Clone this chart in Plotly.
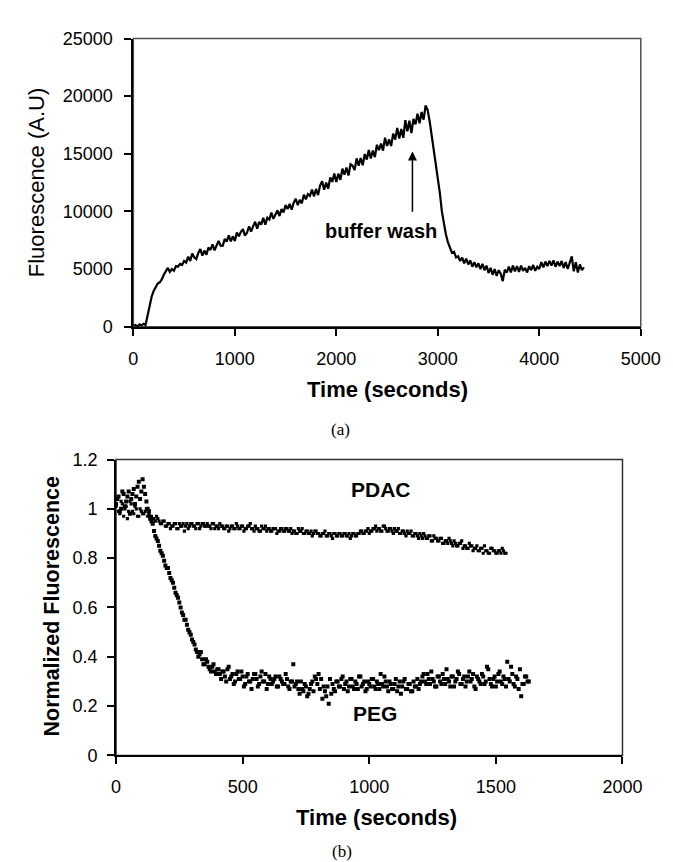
import plotly.graph_objects as go

# ---------------- Data ----------------
# (a) Fluorescence (A.U), sampled every 20 s starting at t = 0 s
t0_a, dt_a = 0, 20
fluor_a = [
    80, 150, 0, 200, 100, 250, 150, 900, 1900, 2600,
    3100, 3500, 3750, 3850, 4100, 4500, 4800, 5100, 4750, 5000,
    4850, 5250, 5200, 5450, 5350, 5700, 5550, 6070, 5705, 6340,
    6025, 5860, 6395, 6730, 6165, 6600, 6235, 6870, 6655, 7140,
    6625, 7060, 7445, 7030, 7015, 7600, 7385, 7920, 7405, 7840,
    7425, 8160, 7845, 8230, 8465, 7900, 8150, 8700, 8250, 8700,
    9100, 8500, 9100, 8850, 9450, 8850, 9450, 9300, 9900, 9350,
    9750, 10100, 9600, 10200, 9900, 10550, 10200, 10650, 10150, 10750,
    11100, 10550, 11000, 10700, 11450, 11050, 11500, 11350, 11900, 11300,
    11950, 11420, 12240, 12610, 11880, 12500, 11970, 12940, 12560, 13280,
    12550, 13270, 12740, 13710, 13180, 13800, 13120, 14090, 13960, 13580,
    14600, 13970, 14640, 14010, 14980, 14500, 15330, 14600, 15280, 14710,
    15780, 15310, 15890, 15270, 16390, 15670, 16250, 15670, 16750, 16230,
    17250, 16330, 17160, 16390, 17910, 16940, 17870, 16790, 18020, 17550,
    18480, 17650, 18630, 17960, 19190, 18800, 17800, 16600, 15400, 14200,
    13000, 11600, 10000, 8900, 8000, 7300, 6900, 6400, 6500, 6000,
    6100, 5700, 6000, 5500, 5900, 5400, 5750, 5200, 5600, 5150,
    5500, 5000, 5450, 4900, 5300, 4650, 5100, 4500, 5000, 4400,
    4900, 4600, 3950, 4950, 4700, 5200, 4700, 5300, 4800, 5250,
    4750, 5300, 4850, 5100, 4700, 5250, 4900, 5350, 4850, 5200,
    5000, 5600, 5150, 5650, 5250, 5700, 5300, 5750, 5200, 5650,
    5250, 5700, 5100, 5600, 5000, 5550, 6100, 4800, 5600, 4700,
    5400, 4900, 5150]

# (b) Normalized fluorescence, two interleaved sample sets (every 10 s, offset 5 s)
t0_b, t0_b_off, dt_b = 0, 5, 10
peg = [1.02, 1.05, 1.00, 1.06, 1.03, 1.07, 1.04, 1.08, 1.05, 1.11, 1.07, 1.09, 1.03, 0.99,
       0.95, 0.91, 0.88, 0.85, 0.82, 0.79, 0.76, 0.74, 0.71, 0.68, 0.65, 0.62, 0.58, 0.55,
       0.53, 0.50, 0.47, 0.45, 0.42, 0.41, 0.39, 0.37, 0.38, 0.35, 0.36, 0.34, 0.35, 0.33,
       0.34, 0.32, 0.35, 0.31, 0.33, 0.30, 0.34, 0.31, 0.32, 0.29, 0.33, 0.30, 0.31, 0.33,
       0.28, 0.32, 0.30, 0.33, 0.29, 0.31, 0.30, 0.32, 0.28, 0.31, 0.29, 0.33, 0.28, 0.30,
       0.37, 0.29, 0.27, 0.30, 0.26, 0.28, 0.25, 0.29, 0.26, 0.31, 0.33, 0.31, 0.28, 0.24,
       0.21, 0.25, 0.27, 0.30, 0.28, 0.31, 0.27, 0.30, 0.28, 0.31, 0.27, 0.29, 0.32, 0.28,
       0.30, 0.27, 0.29, 0.31, 0.28, 0.30, 0.27, 0.29, 0.32, 0.28, 0.30, 0.27, 0.29, 0.26,
       0.30, 0.28, 0.31, 0.27, 0.29, 0.26, 0.28, 0.31, 0.29, 0.32, 0.30, 0.33, 0.29, 0.31,
       0.28, 0.32, 0.30, 0.33, 0.29, 0.31, 0.28, 0.32, 0.30, 0.34, 0.29, 0.31, 0.28, 0.32,
       0.30, 0.33, 0.27, 0.31, 0.29, 0.32, 0.30, 0.35, 0.29, 0.31, 0.28, 0.33, 0.30, 0.32,
       0.28, 0.31, 0.36, 0.29, 0.32, 0.27, 0.24, 0.29, 0.32, 0.30]
peg_off = [1.04, 0.99, 1.07, 1.01, 1.05, 0.98, 1.06, 1.02, 1.09, 1.04, 1.12, 1.06, 1.00,
           0.96, 0.94, 0.89, 0.87, 0.83, 0.81, 0.77, 0.76, 0.72, 0.70, 0.66, 0.64, 0.60,
           0.57, 0.55, 0.51, 0.49, 0.46, 0.43, 0.40, 0.42, 0.37, 0.39,
           0.36, 0.34, 0.37, 0.33, 0.35, 0.31, 0.34, 0.30, 0.36, 0.32, 0.29, 0.33, 0.31, 0.34,
           0.28, 0.32, 0.30, 0.27, 0.33, 0.31, 0.29, 0.34, 0.30, 0.27, 0.32, 0.29, 0.31, 0.28,
           0.32, 0.30, 0.29, 0.31, 0.27, 0.30,
           0.28, 0.30, 0.25, 0.27, 0.29, 0.24, 0.27, 0.30, 0.32, 0.29, 0.27, 0.23, 0.26, 0.28,
           0.31, 0.29, 0.26, 0.30, 0.28, 0.32,
           0.29, 0.26, 0.31, 0.28, 0.30, 0.27, 0.32, 0.29, 0.26, 0.30, 0.28, 0.31, 0.27, 0.29,
           0.33, 0.28, 0.30, 0.26, 0.29, 0.27, 0.31, 0.28, 0.25, 0.30, 0.27, 0.29, 0.26, 0.30,
           0.28, 0.27,
           0.30, 0.33, 0.29, 0.31, 0.34, 0.30, 0.28, 0.32, 0.29, 0.31, 0.35, 0.30, 0.32, 0.28,
           0.31, 0.33, 0.29, 0.32, 0.30, 0.34, 0.31, 0.28, 0.32, 0.30, 0.33, 0.29, 0.36, 0.31,
           0.28, 0.32, 0.30, 0.34, 0.29, 0.31, 0.38, 0.30, 0.33, 0.28, 0.31, 0.35, 0.29, 0.32,
           0.30]
pdac = [1.01, 0.99, 1.03, 0.97, 1.01, 0.99, 1.02, 0.98, 1.00, 0.97, 0.99, 0.98, 1.00, 0.98,
        0.97, 0.96, 0.97, 0.95, 0.94, 0.95, 0.93, 0.94, 0.93, 0.94, 0.92, 0.94, 0.93, 0.91,
        0.94, 0.93, 0.94, 0.93, 0.94, 0.92, 0.94, 0.93, 0.94, 0.93, 0.94, 0.92, 0.93, 0.94,
        0.93, 0.92, 0.93, 0.92, 0.93, 0.92, 0.93, 0.92, 0.93, 0.92, 0.93, 0.94, 0.92, 0.93,
        0.92, 0.91, 0.92, 0.93, 0.92, 0.91, 0.92, 0.92, 0.91, 0.92, 0.91, 0.92, 0.91, 0.92,
        0.91, 0.90, 0.92, 0.91, 0.90, 0.91, 0.90, 0.91, 0.90, 0.91, 0.90, 0.89, 0.90, 0.89,
        0.90, 0.89, 0.90, 0.89, 0.90, 0.89, 0.90, 0.89, 0.90, 0.89, 0.90, 0.89, 0.90, 0.91,
        0.90, 0.91, 0.90, 0.91, 0.92, 0.91, 0.92, 0.91, 0.93, 0.91, 0.92, 0.91, 0.92, 0.91,
        0.90, 0.91, 0.90, 0.91, 0.90, 0.89, 0.90, 0.89, 0.90, 0.88, 0.89, 0.88, 0.89, 0.87,
        0.88, 0.87, 0.88, 0.86, 0.87, 0.86, 0.87, 0.85, 0.86, 0.85, 0.86, 0.84, 0.85, 0.84,
        0.85, 0.83, 0.84, 0.83, 0.84, 0.82, 0.83, 0.82, 0.84, 0.83, 0.82, 0.83, 0.82, 0.83,
        0.82]
pdac_off = [1.04, 0.98, 1.02, 1.00, 0.96, 1.03, 0.99, 1.01, 0.97, 1.00, 0.98, 0.99, 0.97,
            0.97, 0.96, 0.95, 0.96, 0.94, 0.95, 0.93, 0.94, 0.92, 0.93, 0.94, 0.92, 0.93,
            0.94, 0.93, 0.92, 0.94, 0.93, 0.92, 0.94, 0.93, 0.94, 0.93,
            0.93, 0.92, 0.94, 0.93, 0.92, 0.93, 0.92, 0.93, 0.91, 0.93, 0.92, 0.94, 0.92, 0.93,
            0.91, 0.92, 0.93, 0.92, 0.91, 0.92, 0.91, 0.93, 0.92, 0.91, 0.92, 0.91, 0.92, 0.90,
            0.91, 0.92, 0.91, 0.92, 0.91, 0.90,
            0.91, 0.90, 0.91, 0.92, 0.90, 0.91, 0.90, 0.89, 0.91, 0.90, 0.89, 0.90, 0.91, 0.89,
            0.90, 0.88, 0.90, 0.89, 0.90, 0.89,
            0.90, 0.89, 0.88, 0.90, 0.89, 0.90, 0.91, 0.90, 0.91, 0.92, 0.91, 0.92, 0.93, 0.92,
            0.91, 0.93, 0.92, 0.91, 0.92, 0.90, 0.91, 0.92, 0.90, 0.91, 0.89, 0.90, 0.91, 0.89,
            0.90, 0.88,
            0.89, 0.90, 0.88, 0.89, 0.87, 0.89, 0.88, 0.87, 0.88, 0.86, 0.87, 0.88, 0.86, 0.87,
            0.85, 0.86, 0.87, 0.85, 0.84, 0.86, 0.85, 0.84, 0.85, 0.83, 0.84, 0.85, 0.83, 0.82,
            0.84, 0.83, 0.82, 0.83, 0.84, 0.82]

x_ticks_a = [0, 1000, 2000, 3000, 4000, 5000]
y_ticks_a = [0, 5000, 10000, 15000, 20000, 25000]
x_ticks_b = [0, 500, 1000, 1500, 2000]
y_ticks_b = [0, 0.2, 0.4, 0.6, 0.8, 1, 1.2]

# ---------------- Figure ----------------
W, H = 673, 862
SANS = "Arial, Liberation Sans, sans-serif"
SERIF = "Times New Roman, Liberation Serif, serif"


def px(x):
    return x / W


def py(y):
    return 1 - y / H


fig = go.Figure()
fig.add_trace(go.Scatter(y=fluor_a, x0=t0_a, dx=dt_a, mode="lines",
                         line=dict(color="black", width=2.2),
                         xaxis="x", yaxis="y", showlegend=False))
for vals, start, size in [(pdac, t0_b, 3.2), (pdac_off, t0_b_off, 3.2),
                          (peg, t0_b, 4), (peg_off, t0_b_off, 4)]:
    fig.add_trace(go.Scatter(y=vals, x0=start, dx=dt_b, mode="markers",
                             marker=dict(color="black", size=size, symbol="square",
                                         line=dict(width=0)),
                             xaxis="x2", yaxis="y2", showlegend=False))

axis_common = dict(showgrid=False, zeroline=False, showline=True, linecolor="black",
                   linewidth=2, ticks="outside", ticklen=7, tickwidth=2, tickcolor="black",
                   tickfont=dict(family=SANS, size=18, color="black"))

fig.update_layout(
    width=W, height=H,
    margin=dict(l=0, r=0, t=0, b=0),
    paper_bgcolor="white", plot_bgcolor="white",
    xaxis=dict(domain=[px(125), px(652)], range=[0, 5000], tickvals=x_ticks_a,
               tickformat="d", anchor="y", ticklabelstandoff=8, **axis_common),
    yaxis=dict(domain=[py(316), py(21)], range=[0, 25000], tickvals=y_ticks_a,
               tickformat="d", anchor="x", ticklabelstandoff=8, **axis_common),
    xaxis2=dict(domain=[px(107), px(633)], range=[0, 2000], tickvals=x_ticks_b,
                tickformat="d", anchor="y2", ticklabelstandoff=7, **axis_common),
    yaxis2=dict(domain=[py(755), py(452)], range=[0, 1.2], tickvals=y_ticks_b,
                anchor="x2", ticklabelstandoff=6, **axis_common),
)

# Plot frames (top/right border)
fig.add_shape(type="rect", xref="x domain", yref="y domain", x0=0, x1=1, y0=0, y1=1,
              line=dict(color="#505050", width=1.5), layer="below")
fig.add_shape(type="rect", xref="x2 domain", yref="y2 domain", x0=0, x1=1, y0=0, y1=1,
              line=dict(color="#303030", width=1.5), layer="below")

ann = []
ann.append(dict(text="Fluorescence (A.U)", x=px(24), y=py(168), xref="paper", yref="paper",
                textangle=-90, showarrow=False, xanchor="center", yanchor="middle",
                font=dict(family=SANS, size=22, color="black")))
ann.append(dict(text="<b>Time (seconds)</b>", x=px(389), y=py(380), xref="paper", yref="paper",
                showarrow=False, xanchor="center", yanchor="middle",
                font=dict(family=SANS, size=22, color="black")))
ann.append(dict(text="(a)", x=px(340), y=py(421), xref="paper", yref="paper",
                showarrow=False, xanchor="center", yanchor="middle",
                font=dict(family=SERIF, size=17, color="black")))
ann.append(dict(text="<b>Normalized Fluorescence</b>", x=px(41), y=py(602), xref="paper",
                yref="paper", textangle=-90, showarrow=False, xanchor="center",
                yanchor="middle", font=dict(family=SANS, size=21.5, color="black")))
ann.append(dict(text="<b>Time (seconds)</b>", x=px(378), y=py(818), xref="paper", yref="paper",
                showarrow=False, xanchor="center", yanchor="middle",
                font=dict(family=SANS, size=22, color="black")))
ann.append(dict(text="(b)", x=px(342), y=py(853), xref="paper", yref="paper",
                showarrow=False, xanchor="center", yanchor="middle",
                font=dict(family=SERIF, size=17, color="black")))
ann.append(dict(text="<b>buffer wash</b>", x=2437, y=8300, xref="x", yref="y",
                showarrow=False, xanchor="center", yanchor="middle",
                font=dict(family=SANS, size=20, color="black")))
ann.append(dict(text="", x=2750, y=15200, ax=2750, ay=9830, xref="x", yref="y",
                axref="x", ayref="y", showarrow=True, arrowhead=2, arrowsize=1.2,
                arrowwidth=1.5, arrowcolor="black"))
ann.append(dict(text="<b>PDAC</b>", x=1046, y=1.08, xref="x2", yref="y2",
                showarrow=False, xanchor="center", yanchor="middle",
                font=dict(family=SANS, size=21, color="black")))
ann.append(dict(text="<b>PEG</b>", x=1022, y=0.172, xref="x2", yref="y2",
                showarrow=False, xanchor="center", yanchor="middle",
                font=dict(family=SANS, size=21, color="black")))
fig.update_layout(annotations=ann)

fig.write_html("out.html")
